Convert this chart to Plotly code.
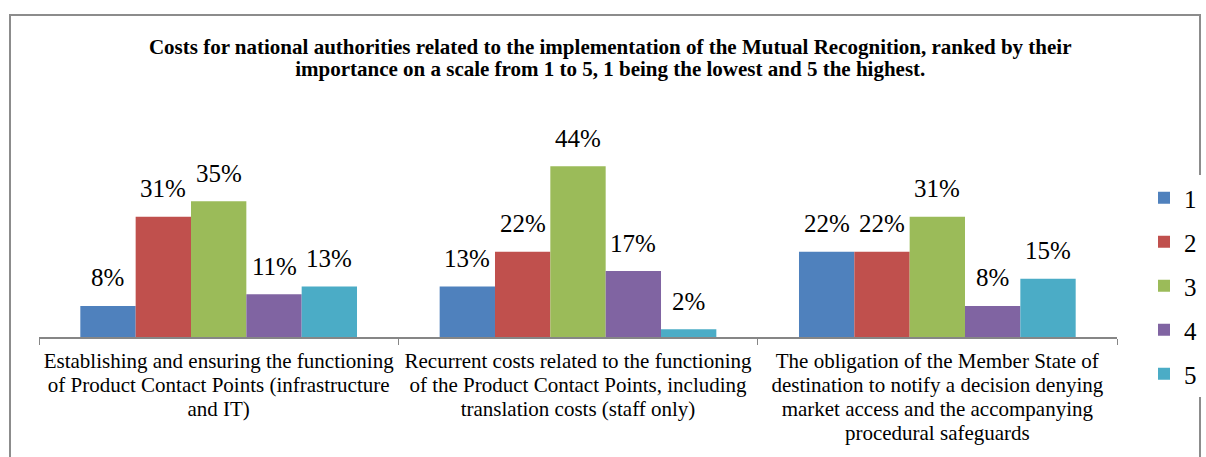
import plotly.graph_objects as go

categories = [
    "Establishing and ensuring the functioning<br>of Product Contact Points (infrastructure<br>and IT)",
    "Recurrent costs related to the functioning<br>of the Product Contact Points, including<br>translation costs (staff only)",
    "The obligation of the Member State of<br>destination to notify a decision denying<br>market access and the accompanying<br>procedural safeguards",
]
series_names = ["1", "2", "3", "4", "5"]
values = {
    "1": [8, 13, 22],
    "2": [31, 22, 22],
    "3": [35, 44, 31],
    "4": [11, 17, 8],
    "5": [13, 2, 15],
}
colors = ["#4F81BD", "#C0504D", "#9BBB59", "#8064A2", "#4BACC6"]
title_lines = [
    "Costs for national authorities related to the implementation of the Mutual Recognition, ranked by their",
    "importance on a scale from 1 to 5, 1 being the lowest and 5 the highest.",
]

FONT = "Liberation Serif"

W, H = 1206, 457
ml, mr, mt, mb = 39, 89, 143, 120
pw = W - ml - mr
ph = H - mt - mb
BARGAP = 0.23
n = len(series_names)
bar_px = pw / len(categories) * (1 - BARGAP) / n


def px_x(x):
    return (x - ml) / pw


def px_y(y):
    return (H - mb - y) / ph


def big(lines, size):
    return "<br>".join(f"<span style='font-size:{size}px'>{l}</span>" for l in lines)


tick_text = [big(c.split("<br>"), 21) for c in categories]

fig = go.Figure()
annotations = []
for i, (name, col) in enumerate(zip(series_names, colors)):
    vals = values[name]
    fig.add_trace(go.Bar(
        x=categories, y=vals, name=name, marker_color=col,
        marker_line_width=0, legendgroup=name,
    ))
    for c, v in zip(categories, vals):
        annotations.append(dict(
            x=c, y=v, xref="x", yref="y", text=f"{v}%", showarrow=False,
            xshift=(i - (n - 1) / 2) * bar_px, yshift=28, yanchor="middle",
            font=dict(family=FONT, size=25, color="black"),
        ))

fig.update_layout(
    width=W, height=H,
    margin=dict(l=ml, r=mr, t=mt, b=mb, autoexpand=False),
    paper_bgcolor="white", plot_bgcolor="white",
    barmode="group", bargap=BARGAP, bargroupgap=0,
    font=dict(family=FONT, color="black"),
    title=dict(
        text="<b>" + big(title_lines, 21) + "</b>",
        x=0.506, xanchor="center", y=1 - 54 / H, yanchor="middle", yref="container",
        font=dict(family=FONT, size=17, color="black"),
    ),
    xaxis=dict(
        showline=True, linecolor="#868686", linewidth=2,
        ticks="outside", tickson="boundaries", ticklen=6, tickcolor="#868686", tickwidth=1,
        tickfont=dict(family=FONT, size=18.5, color="black"),
        tickmode="array", tickvals=categories, ticktext=tick_text,
        tickangle=0, ticklabelstandoff=7,
        showgrid=False,
    ),
    yaxis=dict(range=[0, 50], visible=False, showgrid=False),
    legend=dict(
        x=px_x(1144), xanchor="left", y=px_y(175), yanchor="top",
        font=dict(family=FONT, size=25, color="black"),
        tracegroupgap=8.5, traceorder="grouped",
        itemwidth=30, maxheight=400,
    ),
    showlegend=True,
    annotations=annotations,
    shapes=[dict(
        type="rect", xref="paper", yref="paper",
        x0=px_x(10), x1=px_x(1200), y0=px_y(470), y1=px_y(15),
        line=dict(color="#8c8c8c", width=2), fillcolor="rgba(0,0,0,0)", layer="below",
    )],
)

fig.write_html(
    "out.html",
    config={"displayModeBar": False},
    post_script="document.body.style.margin='0';",
)
